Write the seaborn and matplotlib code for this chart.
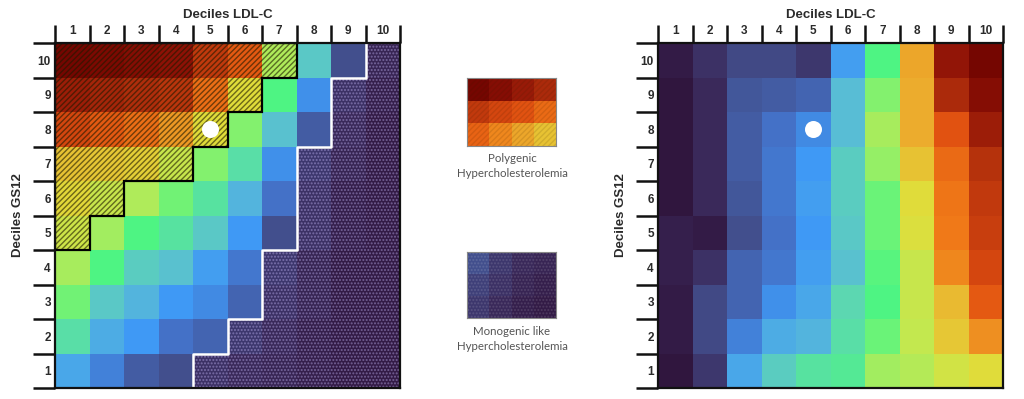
import matplotlib
matplotlib.use("Agg")
import matplotlib.pyplot as plt
from matplotlib.colors import LinearSegmentedColormap
from matplotlib.patches import Polygon
from matplotlib.lines import Line2D
import numpy as np
import pandas as pd
import seaborn as sns

# ---- data -------------------------------------------------------------
ldl_deciles = [str(i) for i in range(1, 11)]
gs12_deciles = [str(i) for i in range(10, 0, -1)]   # top row = decile 10

# left panel, rows GS12 decile 10 -> 1, columns LDL-C decile 1 -> 10
left_values = [
    [0.99, 0.97, 0.95, 0.93, 0.83, 0.76, 0.47, 0.27, 0.10, 0.04],
    [0.90, 0.88, 0.86, 0.84, 0.72, 0.56, 0.35, 0.19, 0.06, 0.03],
    [0.80, 0.76, 0.72, 0.66, 0.56, 0.41, 0.26, 0.12, 0.05, 0.02],
    [0.60, 0.59, 0.58, 0.51, 0.41, 0.31, 0.19, 0.07, 0.04, 0.02],
    [0.57, 0.51, 0.47, 0.39, 0.32, 0.24, 0.15, 0.06, 0.03, 0.02],
    [0.52, 0.45, 0.35, 0.32, 0.27, 0.20, 0.10, 0.06, 0.03, 0.02],
    [0.46, 0.35, 0.28, 0.26, 0.21, 0.16, 0.07, 0.04, 0.02, 0.02],
    [0.39, 0.27, 0.24, 0.20, 0.18, 0.13, 0.06, 0.04, 0.02, 0.02],
    [0.31, 0.23, 0.20, 0.15, 0.13, 0.07, 0.05, 0.03, 0.02, 0.02],
    [0.22, 0.17, 0.12, 0.10, 0.06, 0.05, 0.04, 0.03, 0.02, 0.02],
]

# right panel
right_values = [
    [0.02, 0.06, 0.09, 0.09, 0.07, 0.21, 0.35, 0.64, 0.92, 0.99],
    [0.01, 0.05, 0.11, 0.12, 0.13, 0.25, 0.41, 0.63, 0.87, 0.95],
    [0.01, 0.05, 0.12, 0.15, 0.18, 0.25, 0.46, 0.63, 0.77, 0.90],
    [0.01, 0.05, 0.12, 0.16, 0.20, 0.28, 0.43, 0.60, 0.73, 0.85],
    [0.01, 0.05, 0.11, 0.16, 0.21, 0.28, 0.38, 0.56, 0.71, 0.83],
    [0.03, 0.02, 0.10, 0.15, 0.20, 0.27, 0.38, 0.55, 0.70, 0.82],
    [0.03, 0.06, 0.13, 0.16, 0.21, 0.26, 0.36, 0.51, 0.68, 0.80],
    [0.02, 0.09, 0.13, 0.19, 0.22, 0.30, 0.35, 0.51, 0.61, 0.76],
    [0.02, 0.09, 0.17, 0.23, 0.24, 0.31, 0.38, 0.50, 0.59, 0.67],
    [0.01, 0.07, 0.22, 0.28, 0.32, 0.33, 0.45, 0.48, 0.53, 0.56],
]

# hatched cells counted from the left / dotted cells counted from the right, per row (10 -> 1)
polygenic_cells = [7, 6, 5, 4, 2, 1, 0, 0, 0, 0]
monogenic_cells = [1, 2, 2, 3, 3, 3, 4, 4, 5, 6]

marker_ldl, marker_gs12 = "5", "8"

poly_swatch = [
    [0.99, 0.95, 0.91, 0.87],
    [0.83, 0.80, 0.77, 0.73],
    [0.74, 0.68, 0.64, 0.60],
]
mono_swatch = [
    [0.10, 0.07, 0.05, 0.04],
    [0.08, 0.06, 0.04, 0.03],
    [0.07, 0.05, 0.03, 0.02],
]

# ---- style ------------------------------------------------------------
sns.set_style("white")
plt.rcParams["font.family"] = ["Liberation Sans", "DejaVu Sans"]
plt.rcParams["hatch.linewidth"] = 1.0
TXT = "#2b2b2b"

# muted turbo-like palette as in the figure
CMAP = LinearSegmentedColormap.from_list("muted_turbo", [
    (0.00, "#2e1238"), (0.05, "#3b2a5c"), (0.10, "#42508f"), (0.15, "#4472c8"),
    (0.20, "#3f99f5"), (0.25, "#58bcd6"), (0.30, "#5cd8b0"), (0.35, "#4ef582"),
    (0.42, "#8ef06a"), (0.50, "#c2e850"), (0.56, "#e0dd3a"), (0.62, "#ebb430"),
    (0.70, "#f07a18"), (0.78, "#e04e10"), (0.86, "#b02e0c"), (0.93, "#8e1206"),
    (1.00, "#720400"),
])


def staircase_left(counts):
    verts = [(0, 0)]
    last = 0
    for i, c in enumerate(counts):
        if c > 0:
            verts += [(c, i), (c, i + 1)]
            last = i + 1
    verts.append((0, last))
    return verts


def staircase_right(counts, n=10):
    line = []
    for i, c in enumerate(counts):
        line += [(n - c, i), (n - c, i + 1)]
    return line


def style_heatmap(ax):
    ax.set_xticks(np.arange(11))
    ax.set_xticklabels([])
    ax.set_xticks(np.arange(10) + 0.5, minor=True)
    ax.set_xticklabels(ldl_deciles, minor=True, fontweight="bold", fontsize=8.5, color=TXT)
    ax.set_yticks(np.arange(11))
    ax.set_yticklabels([])
    ax.set_yticks(np.arange(10) + 0.5, minor=True)
    ax.set_yticklabels(gs12_deciles, minor=True, fontweight="bold", fontsize=8.5,
                       color=TXT, rotation=0)
    ax.tick_params(axis="x", which="major", top=True, bottom=False, length=13,
                   width=1.8, color="#111111", labeltop=False, labelbottom=False)
    ax.tick_params(axis="x", which="minor", top=True, bottom=False, length=0,
                   labeltop=True, labelbottom=False, pad=4)
    ax.tick_params(axis="y", which="major", left=True, length=16, width=1.8,
                   color="#111111", labelleft=False)
    ax.tick_params(axis="y", which="minor", left=True, length=0, labelleft=True, pad=3)
    ax.xaxis.set_label_position("top")
    ax.set_xlabel("Deciles LDL-C", fontweight="bold", fontsize=9.5, color=TXT, labelpad=5)
    ax.set_ylabel("Deciles GS12", fontweight="bold", fontsize=9.5, color=TXT, labelpad=6)
    for sp in ax.spines.values():
        sp.set_visible(True)
        sp.set_color("#111111")
        sp.set_linewidth(1.6)


fig = plt.figure(figsize=(10.24, 3.99), dpi=100)

left_df = pd.DataFrame(left_values, index=gs12_deciles, columns=ldl_deciles)
right_df = pd.DataFrame(right_values, index=gs12_deciles, columns=ldl_deciles)

# ---- left panel -------------------------------------------------------
ax1 = fig.add_axes([55 / 1024, 11 / 399, 345 / 1024, 345 / 399])
sns.heatmap(left_df, cmap=CMAP, vmin=0, vmax=1, cbar=False, ax=ax1, linewidths=0)
style_heatmap(ax1)

poly = staircase_left(polygenic_cells)
ax1.add_patch(Polygon(poly, closed=True, fill=False, hatch="//////",
                      edgecolor=(0.12, 0.1, 0.0, 0.6), linewidth=0))
ax1.add_patch(Polygon(poly, closed=True, fill=False, edgecolor="black", linewidth=1.6))

mono_line = staircase_right(monogenic_cells)
ax1.add_patch(Polygon(mono_line + [(10, 10), (10, 0)], closed=True, fill=False,
                      hatch=".....", edgecolor=(0.8, 0.75, 1, 0.4), linewidth=0))
xs, ys = zip(*mono_line)
ax1.add_line(Line2D(xs, ys, color="white", linewidth=1.8))

# ---- right panel ------------------------------------------------------
ax2 = fig.add_axes([658 / 1024, 11 / 399, 345 / 1024, 345 / 399])
sns.heatmap(right_df, cmap=CMAP, vmin=0, vmax=1, cbar=False, ax=ax2, linewidths=0)
style_heatmap(ax2)

for ax in (ax1, ax2):
    mx = ldl_deciles.index(marker_ldl) + 0.5
    my = gs12_deciles.index(marker_gs12) + 0.5
    ax.scatter([mx], [my], s=150, color="white", zorder=5, linewidths=0)

# ---- legend swatches --------------------------------------------------
ax3 = fig.add_axes([467 / 1024, 253 / 399, 89 / 1024, 68 / 399])
sns.heatmap(pd.DataFrame(poly_swatch), cmap=CMAP, vmin=0, vmax=1, cbar=False, ax=ax3)
ax3.add_patch(Polygon([(0, 0), (4, 0), (4, 3), (0, 3)], closed=True, fill=False,
                      hatch="//////", edgecolor=(0.2, 0.1, 0.0, 0.12), linewidth=0))
ax4 = fig.add_axes([467 / 1024, 81 / 399, 89 / 1024, 66 / 399])
sns.heatmap(pd.DataFrame(mono_swatch), cmap=CMAP, vmin=0, vmax=1, cbar=False, ax=ax4)
ax4.add_patch(Polygon([(0, 0), (4, 0), (4, 3), (0, 3)], closed=True, fill=False,
                      hatch=".....", edgecolor=(1, 1, 1, 0.12), linewidth=0))
for ax in (ax3, ax4):
    ax.set_xticks([])
    ax.set_yticks([])
    ax.set_xlabel("")
    ax.set_ylabel("")
    for sp in ax.spines.values():
        sp.set_visible(True)
        sp.set_color("#888888")
        sp.set_linewidth(0.8)

fig.text(512 / 1024, 1 - 166 / 399, "Polygenic\nHypercholesterolemia", ha="center",
         va="center", fontsize=8.3, color="#555555", family=["Lato", "DejaVu Sans"],
         linespacing=1.35)
fig.text(512 / 1024, 1 - 339 / 399, "Monogenic like\nHypercholesterolemia", ha="center",
         va="center", fontsize=8.3, color="#555555", family=["Lato", "DejaVu Sans"],
         linespacing=1.35)

fig.savefig("out.png", dpi=100)
